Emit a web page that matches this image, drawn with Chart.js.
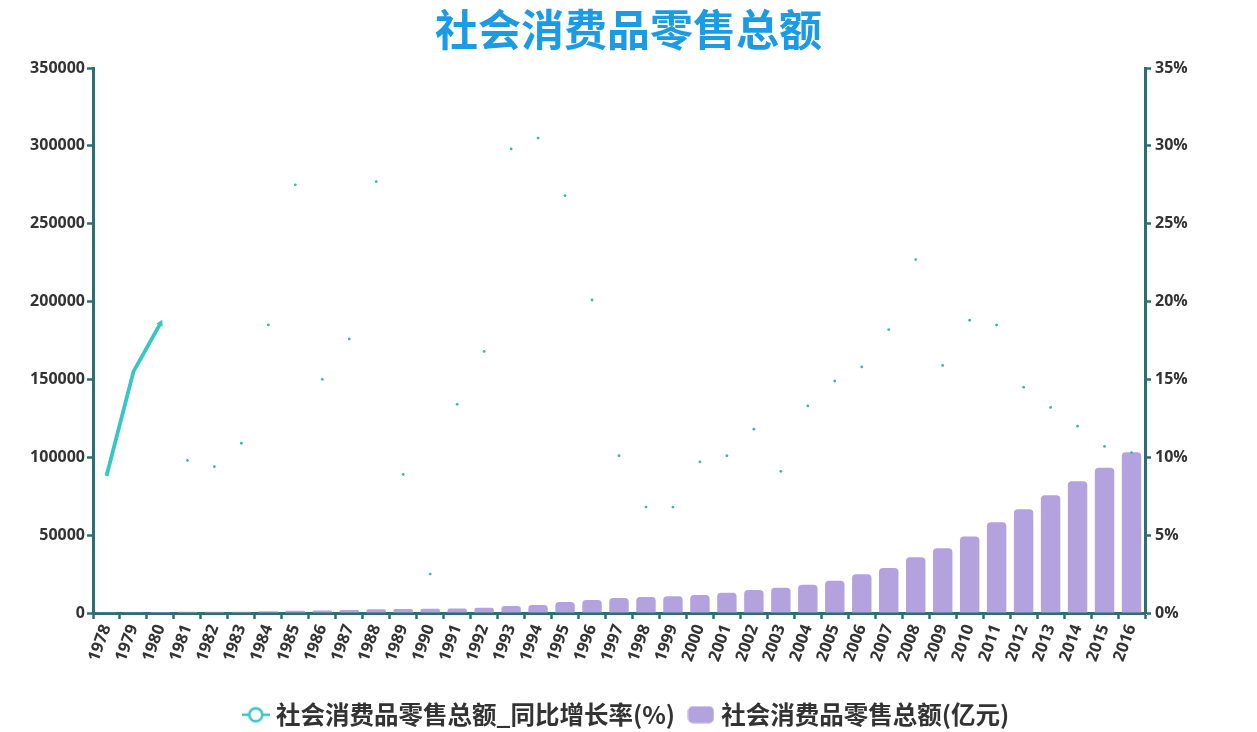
<!DOCTYPE html>
<html>
<head>
<meta charset="utf-8">
<script src="https://cdn.jsdelivr.net/npm/chart.js@4"></script>
<style>
  html, body { margin: 0; padding: 0; background: #fff; }
  #wrap { width: 1257px; height: 732px; position: relative; }
</style>
</head>
<body>
<div id="wrap"><canvas id="c"></canvas></div>
<script>
const years = ['1978','1979','1980','1981','1982','1983','1984','1985','1986','1987','1988','1989','1990','1991','1992','1993','1994','1995','1996','1997','1998','1999','2000','2001','2002','2003','2004','2005','2006','2007','2008','2009','2010','2011','2012','2013','2014','2015','2016'];
// 社会消费品零售总额(亿元) — bar heights as drawn
const salesValues = [480,560,660,730,800,880,1100,1400,1600,1850,2400,2600,2650,2950,3450,4450,5100,7100,8300,9600,10300,10800,11600,13000,14800,16200,18200,20700,24900,28900,35800,41600,49200,58200,66600,75600,84600,93300,103200];
// 社会消费品零售总额_同比增长率(%)
const growthValues = [8.8,15.5,18.6,9.8,9.4,10.9,18.5,27.5,15.0,17.6,27.7,8.9,2.5,13.4,16.8,29.8,30.5,26.8,20.1,10.1,6.8,6.8,9.7,10.1,11.8,9.1,13.3,14.9,15.8,18.2,22.7,15.9,18.8,18.5,14.5,13.2,12.0,10.7,10.3];
const leftTicks = [0,50000,100000,150000,200000,250000,300000,350000];
const rightTicks = [0,5,10,15,20,25,30,35];

const titleText = '社会消费品零售总额';
const lineName = '社会消费品零售总额_同比增长率(%)';
const barName = '社会消费品零售总额(亿元)';

const lineColor = '#36c6c4';
const dotColor = '#3fb3b8';
const barColor = '#b3a2de';
const axisColor = '#2b6e73';
const textColor = '#333333';
const latin = '"Open Sans", "Noto Sans CJK SC", sans-serif';
const cjk = '"Noto Sans CJK SC", "Open Sans", sans-serif';

function lineIcon() {
  const c = document.createElement('canvas');
  c.width = 28; c.height = 18;
  const g = c.getContext('2d');
  g.strokeStyle = lineColor; g.lineWidth = 2.5;
  g.beginPath(); g.moveTo(0, 9); g.lineTo(28, 9); g.stroke();
  g.beginPath(); g.arc(14, 9, 6.5, 0, Math.PI * 2);
  g.fillStyle = '#fff'; g.fill(); g.stroke();
  return c;
}
function barIcon() {
  const c = document.createElement('canvas');
  c.width = 27; c.height = 18;
  const g = c.getContext('2d');
  g.fillStyle = barColor;
  g.beginPath(); g.roundRect(0.5, 0.5, 26, 17, 5); g.fill();
  return c;
}
const icons = [lineIcon(), barIcon()];

new Chart(document.getElementById('c'), {
  data: {
    labels: years,
    datasets: [
      {
        type: 'line',
        label: lineName,
        data: growthValues,
        yAxisID: 'y1',
        order: 0,
        borderColor: lineColor,
        borderWidth: 3.8,
        tension: 0,
        fill: false,
        segment: {
          borderColor: ctx => ctx.p0DataIndex >= 2 ? 'rgba(0,0,0,0)' : lineColor
        },
        pointRadius: ctx => ctx.dataIndex < 2 ? 0 : (ctx.dataIndex === 2 ? 4 : 1.4),
        pointStyle: ctx => ctx.dataIndex === 2 ? 'triangle' : 'circle',
        rotation: ctx => ctx.dataIndex === 2 ? 28 : 0,
        pointBackgroundColor: ctx => ctx.dataIndex === 2 ? lineColor : dotColor,
        pointBorderWidth: 0,
        pointHoverRadius: 2
      },
      {
        type: 'bar',
        label: barName,
        data: salesValues,
        yAxisID: 'y',
        order: 1,
        backgroundColor: barColor,
        borderRadius: { topLeft: 4, topRight: 4, bottomLeft: 0, bottomRight: 0 },
        borderSkipped: 'start',
        categoryPercentage: 0.72,
        barPercentage: 1
      }
    ]
  },
  options: {
    responsive: true,
    maintainAspectRatio: false,
    animation: false,
    layout: { padding: { top: 0, left: 0, right: 0, bottom: -5 } },
    plugins: {
      title: {
        display: true,
        text: titleText,
        color: '#1a9be4',
        font: { family: cjk, size: 43, weight: 'bold', lineHeight: 1.2 },
        padding: { top: 4, bottom: 12.4 }
      },
      legend: {
        display: true,
        position: 'bottom',
        labels: {
          usePointStyle: true,
          pointStyleWidth: 16,
          padding: 18,
          color: textColor,
          font: { family: cjk, size: 24.5, weight: 'bold' },
          generateLabels: chart => chart.data.datasets.map((ds, i) => ({
            text: ds.label,
            pointStyle: icons[i],
            fillStyle: i === 0 ? lineColor : barColor,
            strokeStyle: i === 0 ? lineColor : barColor,
            fontColor: textColor,
            lineWidth: 0,
            hidden: false,
            datasetIndex: i
          }))
        }
      },
      tooltip: { enabled: false }
    },
    scales: {
      x: {
        type: 'category',
        offset: true,
        grid: {
          display: true,
          offset: true,
          drawOnChartArea: false,
          drawTicks: true,
          tickLength: 6,
          tickColor: axisColor,
          tickWidth: 2.5
        },
        border: { display: true, color: axisColor, width: 3 },
        ticks: {
          autoSkip: false,
          maxRotation: 70,
          minRotation: 70,
          padding: 3,
          color: textColor,
          font: { family: latin, size: 16.5, weight: 'bold' }
        },
        afterFit: s => { s.height = 71.5; }
      },
      y: {
        type: 'linear',
        position: 'left',
        min: 0,
        max: 350000,
        afterBuildTicks: s => { s.ticks = leftTicks.map(v => ({ value: v })); },
        grid: {
          display: true,
          drawOnChartArea: false,
          drawTicks: true,
          tickLength: 6,
          tickColor: axisColor,
          tickWidth: 2.5
        },
        border: { display: true, color: axisColor, width: 3 },
        ticks: {
          padding: 2,
          color: textColor,
          font: { family: latin, size: 16, weight: 'bold' },
          callback: v => String(v)
        },
        afterFit: s => { s.width = 93; }
      },
      y1: {
        type: 'linear',
        position: 'right',
        min: 0,
        max: 35,
        afterBuildTicks: s => { s.ticks = rightTicks.map(v => ({ value: v })); },
        grid: {
          display: true,
          drawOnChartArea: false,
          drawTicks: true,
          tickLength: 6,
          tickColor: axisColor,
          tickWidth: 2.5
        },
        border: { display: true, color: axisColor, width: 3 },
        ticks: {
          padding: 4,
          color: textColor,
          font: { family: latin, size: 16, weight: 'bold' },
          callback: v => v + '%'
        },
        afterFit: s => { s.width = 112; }
      }
    }
  }
});
</script>
</body>
</html>
